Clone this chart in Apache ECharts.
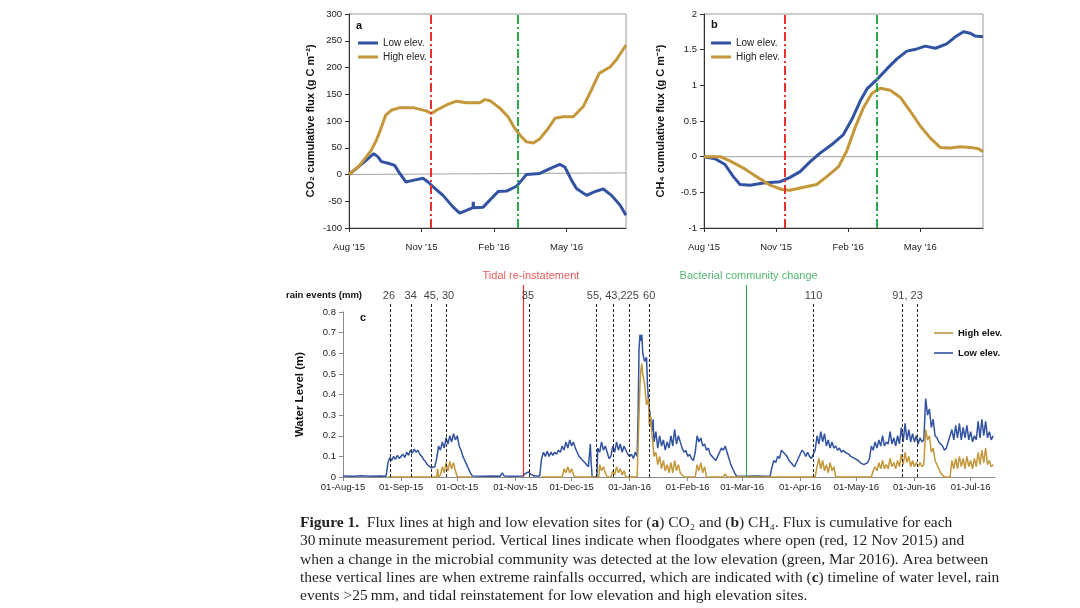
<!DOCTYPE html>
<html><head><meta charset="utf-8">
<script src="https://cdn.jsdelivr.net/npm/echarts@6/dist/echarts.min.js"></script>
<style>html,body{margin:0;padding:0;background:#fff}#c{width:1080px;height:608px}</style>
</head><body><div id="c"></div>
<script>
// ---------- Panel a : CO2 cumulative flux (x = months since 1 Aug 2015) ----------
const aLow = [[0,0],[0.3,11],[0.72,27],[1.02,39],[1.2,33],[1.34,24],[1.62,21],[1.89,17],[2.1,2],[2.35,-14],[2.65,-11],[3.06,-7],[3.27,-14],[3.48,-23],[3.89,-39],[4.31,-61],[4.58,-72],[4.86,-67],[5.13,-62],[5.14,-51],[5.16,-62],[5.55,-61],[5.89,-45],[6.17,-32],[6.52,-31],[6.93,-22],[7.14,-11],[7.34,0],[7.9,2],[8.31,11],[8.72,19],[8.93,14],[9.21,-11],[9.41,-26],[9.83,-39],[10.17,-32],[10.52,-27],[10.86,-39],[11.21,-57],[11.46,-76]];
const aHigh = [[0,0],[0.44,17],[0.92,45],[1.13,64],[1.27,80],[1.52,111],[1.75,120],[2.1,125],[2.65,125],[3.2,119],[3.41,114],[3.62,120],[4.03,130],[4.45,137],[4.86,134],[5.41,134],[5.62,140],[5.83,138],[6.24,124],[6.58,108],[6.86,86],[7.07,74],[7.34,61],[7.62,59],[7.9,67],[8.24,86],[8.52,105],[8.86,108],[9.28,108],[9.69,127],[10.03,158],[10.35,189],[10.8,201],[11.07,215],[11.46,242]];
const aRef = [[0,0],[11.46,3]];
const aEvents = [3.38, 6.98];
const aMax = 11.46;

// ---------- Panel b : CH4 cumulative flux ----------
const bLow = [[0,0],[0.46,-0.03],[0.875,-0.11],[1.22,-0.28],[1.5,-0.39],[1.92,-0.4],[2.47,-0.37],[3.17,-0.35],[3.58,-0.29],[4.0,-0.21],[4.42,-0.07],[4.83,0.05],[5.32,0.17],[5.8,0.31],[6.15,0.52],[6.5,0.78],[6.78,0.95],[7.19,1.08],[7.61,1.23],[8.03,1.37],[8.44,1.48],[8.86,1.51],[9.21,1.55],[9.63,1.52],[10.1,1.58],[10.46,1.68],[10.8,1.75],[11.08,1.73],[11.29,1.69],[11.61,1.68]];
const bHigh = [[0,0],[0.67,0.0],[1.08,-0.06],[1.64,-0.16],[2.19,-0.28],[2.75,-0.4],[3.24,-0.46],[3.58,-0.47],[4.14,-0.43],[4.69,-0.39],[5.11,-0.28],[5.6,-0.14],[5.94,0.08],[6.29,0.41],[6.64,0.69],[6.99,0.89],[7.33,0.96],[7.75,0.93],[8.17,0.83],[8.58,0.64],[9.0,0.43],[9.42,0.26],[9.83,0.13],[10.25,0.12],[10.67,0.14],[11.08,0.13],[11.43,0.11],[11.61,0.07]];
const bRef = [[0,0],[11.61,0]];
const bEvents = [3.35, 7.2];
const bMax = 11.61;

const abTicks = [0, 3, 6, 9];
const abTickLabels = ["Aug '15", "Nov '15", "Feb '16", "May '16"];

// ---------- Panel c : water level (x = days since 1 Aug 2015) ----------
const cLowLevel = [[0,0.005],[5,0.004],[10,0.006],[15,0.004],[20,0.005],[23,0.004],[24,0.07],[25,0.095],[26,0.08],[27,0.1],[28,0.085],[29,0.105],[30,0.09],[31,0.1],[32,0.11],[33,0.095],[34,0.12],[35,0.105],[36,0.13],[37,0.115],[38,0.135],[39,0.12],[40,0.13],[41,0.11],[42,0.1],[43,0.085],[44,0.075],[45,0.06],[46,0.055],[47,0.045],[48,0.04],[49,0.05],[50,0.09],[51,0.15],[52,0.13],[53,0.17],[54,0.14],[55,0.19],[56,0.16],[57,0.2],[58,0.17],[59,0.21],[60,0.18],[61,0.2],[62,0.15],[63,0.13],[64,0.1],[65,0.08],[66,0.06],[67,0.04],[68,0.02],[69,0.005],[75,0.004],[80,0.005],[84,0.004],[85,0.02],[86,0.005],[90,0.004],[96,0.005],[97,0.015],[98,0.01],[99,0.025],[100,0.015],[101,0.02],[102,0.005],[105,0.005],[106,0.09],[107,0.12],[108,0.1],[109,0.125],[110,0.1],[111,0.12],[112,0.105],[113,0.12],[114,0.11],[115,0.13],[116,0.12],[117,0.15],[118,0.13],[119,0.17],[120,0.14],[121,0.18],[122,0.15],[123,0.17],[124,0.14],[125,0.12],[126,0.1],[127,0.09],[128,0.08],[129,0.07],[130,0.06],[131,0.05],[132,0.16],[132.5,0.06],[133,0.0],[135.5,0.0],[136,0.14],[137,0.12],[138,0.17],[139,0.13],[140,0.15],[141,0.12],[142,0.09],[143,0.1],[144,0.15],[145,0.12],[146,0.17],[147,0.13],[148,0.16],[149,0.12],[150,0.15],[151,0.13],[152,0.11],[153,0.1],[154,0.11],[155,0.09],[156,0.12],[157,0.1],[157.5,0.3],[158,0.62],[158.5,0.69],[159,0.66],[159.5,0.69],[160,0.6],[161,0.56],[162,0.58],[162.5,0.45],[163,0.38],[163.5,0.33],[164,0.3],[165,0.22],[165.5,0.28],[166,0.17],[167,0.22],[168,0.14],[169,0.2],[170,0.15],[171,0.18],[172,0.13],[173,0.17],[174,0.14],[175,0.2],[176,0.15],[177,0.23],[178,0.16],[179,0.2],[180,0.17],[181,0.14],[182,0.12],[183,0.13],[184,0.1],[185,0.11],[186,0.09],[187,0.08],[188,0.12],[189,0.2],[190,0.17],[191,0.19],[192,0.15],[193,0.16],[194,0.13],[195,0.14],[196,0.11],[197,0.1],[198,0.09],[199,0.08],[200,0.1],[201,0.12],[202,0.14],[203,0.13],[204,0.15],[205,0.12],[206,0.09],[207,0.06],[208,0.04],[209,0.02],[210,0.005],[215,0.004],[220,0.005],[225,0.004],[228,0.005],[229,0.05],[230,0.08],[231,0.07],[232,0.1],[233,0.09],[234,0.13],[235,0.12],[236,0.11],[237,0.1],[238,0.08],[239,0.07],[240,0.06],[241,0.05],[242,0.07],[243,0.09],[244,0.11],[245,0.13],[246,0.12],[247,0.1],[248,0.12],[249,0.1],[250,0.09],[251,0.11],[252,0.13],[253,0.2],[254,0.16],[255,0.22],[256,0.17],[257,0.21],[258,0.15],[259,0.18],[260,0.14],[261,0.17],[262,0.14],[263,0.15],[264,0.13],[265,0.14],[266,0.12],[267,0.13],[268,0.12],[269,0.12],[270,0.11],[271,0.1],[272,0.1],[273,0.09],[274,0.09],[275,0.08],[276,0.07],[277,0.07],[278,0.06],[279,0.06],[280,0.07],[281,0.09],[282,0.15],[283,0.13],[284,0.17],[285,0.14],[286,0.18],[287,0.15],[288,0.2],[289,0.15],[290,0.17],[291,0.16],[292,0.22],[293,0.16],[294,0.19],[295,0.15],[296,0.2],[297,0.16],[298,0.24],[299,0.17],[300,0.26],[301,0.18],[302,0.23],[303,0.17],[304,0.21],[305,0.17],[306,0.2],[307,0.16],[308,0.19],[309,0.17],[310,0.18],[311,0.38],[312,0.3],[313,0.33],[314,0.24],[315,0.28],[316,0.2],[317,0.19],[318,0.17],[319,0.16],[320,0.15],[321,0.13],[322,0.14],[323,0.17],[324,0.2],[325,0.23],[326,0.18],[327,0.25],[328,0.19],[329,0.26],[330,0.18],[331,0.24],[332,0.19],[333,0.25],[334,0.18],[335,0.22],[336,0.17],[337,0.2],[338,0.18],[339,0.27],[340,0.19],[341,0.28],[342,0.2],[343,0.27],[344,0.19],[345,0.22],[346,0.18],[347,0.2]];
const cHighLevel = [[24,0],[50,0],[50.5,0.04],[51,0],[52,0.01],[53,0.05],[54,0.02],[55,0.07],[56,0.03],[57,0.075],[58,0.04],[59,0.07],[60,0.03],[61,0],[69,0],[69.5,null],[106,0],[117,0],[118,0.04],[119,0.02],[120,0.05],[121,0.02],[122,0.04],[123,0.01],[124,0],[136.5,0],[137,0.06],[138,0.03],[139,0.05],[140,0.02],[141,0],[143,0],[144,0.03],[145,0.01],[146,0.05],[147,0.02],[148,0.04],[149,0.01],[150,0.03],[151,0],[157,0],[157.5,0.15],[158,0.3],[158.5,0.45],[159,0.52],[159.5,0.55],[160,0.5],[161,0.45],[162,0.35],[163,0.38],[163.5,0.25],[164,0.3],[165,0.2],[165.5,0.15],[166,0.1],[167,0.12],[168,0.06],[169,0.1],[170,0.04],[171,0.08],[172,0.03],[173,0.06],[174,0.02],[175,0.07],[176,0.02],[177,0.08],[178,0.03],[179,0.06],[180,0.02],[181,0.01],[182,0],[188,0],[189,0.06],[190,0.03],[191,0.07],[192,0.02],[193,0.05],[194,0],[203,0],[204,0.015],[205,0],[252,0],[253,0.05],[254,0.09],[255,0.04],[256,0.08],[257,0.03],[258,0.06],[259,0.02],[260,0.07],[261,0.03],[262,0.05],[263,0],[282,0],[283,0.03],[284,0.05],[285,0.03],[286,0.07],[287,0.04],[288,0.08],[289,0.04],[290,0.06],[291,0.04],[292,0.09],[293,0.05],[294,0.07],[295,0.04],[296,0.08],[297,0.05],[298,0.11],[299,0.06],[300,0.12],[301,0.07],[302,0.1],[303,0.05],[304,0.08],[305,0.05],[306,0.07],[307,0.05],[308,0.07],[309,0.05],[310,0.06],[311,0.23],[312,0.18],[313,0.2],[314,0.12],[315,0.14],[316,0.08],[317,0.06],[318,0.04],[319,0.02],[320,0.01],[321,0],[324,0],[325,0.08],[326,0.04],[327,0.09],[328,0.04],[329,0.1],[330,0.05],[331,0.09],[332,0.04],[333,0.1],[334,0.05],[335,0.08],[336,0.04],[337,0.09],[338,0.05],[339,0.12],[340,0.06],[341,0.13],[342,0.07],[343,0.14],[344,0.06],[345,0.08],[346,0.05],[347,0.06]];
const cTickDays = [0, 31, 61, 92, 122, 153, 184, 213, 244, 274, 305, 335];
const cTickLabels = ['01-Aug-15','01-Sep-15','01-Oct-15','01-Nov-15','01-Dec-15','01-Jan-16','01-Feb-16','01-Mar-16','01-Apr-16','01-May-16','01-Jun-16','01-Jul-16'];
const cMax = 348;
const rainDays = [25, 36.3, 47, 55.3, 99.4, 135.3, 144.2, 152.7, 163.5, 250.8, 298.3, 306.5];
const rainLabelDays = [24.5, 36.1, 51.2, 98.7, 144, 163.4, 251.2, 301.3];
const rainLabels = ['26', '34', '45, 30', '35', '55, 43,225', '60', '110', '91, 23'];
const eventDays = [96.2, 215.3];
const eventLabelDays = [100.3, 216.5];
const eventLabels = ['Tidal re-instatement', 'Bacterial community change'];

// ---------- styling ----------
const FONT = 'Liberation Sans, Arial, sans-serif';
const SERIF = 'Liberation Serif, Times New Roman, serif';
const BLUE = '#3253a2';
const GOLD = '#c4973a';
const RED = '#e8312f';
const GREEN = '#2aa84a';
const DASHDOT = [9, 3, 2, 3];

function abAxisLabel(v) {
  const i = abTicks.findIndex(t => Math.abs(t - v) < 1e-6);
  return i >= 0 ? abTickLabels[i] : '';
}
function cAxisLabel(v) {
  const i = cTickDays.indexOf(v);
  return i >= 0 ? cTickLabels[i] : '';
}

const axisLbl = {fontSize: 9.5, color: '#222', fontFamily: FONT};

function abX(grid, max) {
  return {gridIndex: grid, type: 'value', min: 0, max: max, interval: 3,
    axisLine: {onZero: false, lineStyle: {color: '#333', width: 1}},
    axisTick: {show: true, length: 4, lineStyle: {color: '#333'}},
    axisLabel: Object.assign({formatter: abAxisLabel, margin: 14, showMaxLabel: false}, axisLbl),
    splitLine: {show: false}};
}
function abY(grid, min, max, interval, name, gap) {
  return {gridIndex: grid, type: 'value', min: min, max: max, interval: interval,
    axisLine: {show: true, onZero: false, lineStyle: {color: '#333', width: 1}},
    axisTick: {show: true, length: 4, lineStyle: {color: '#333'}},
    axisLabel: Object.assign({margin: 7}, axisLbl),
    splitLine: {show: false},
    name: name, nameLocation: 'middle', nameGap: gap,
    nameTextStyle: {fontWeight: 'bold', fontSize: 11, fontFamily: FONT, color: '#111'}};
}

function fluxSeries(name, data, color, xi) {
  return {type: 'line', name: name, xAxisIndex: xi, yAxisIndex: xi, data: data,
    showSymbol: false, symbol: 'none', lineStyle: {width: 3, color: color},
    itemStyle: {color: color}, z: 3, silent: true, animation: false};
}
function refSeries(data, events, xi) {
  return {type: 'line', xAxisIndex: xi, yAxisIndex: xi, data: data, showSymbol: false, symbol: 'none',
    lineStyle: {width: 0.8, color: '#8a8a8a'}, z: 2, silent: true, animation: false,
    markLine: {silent: true, symbol: 'none', animation: false, label: {show: false},
      lineStyle: {type: DASHDOT, width: 2},
      data: [{xAxis: events[0], lineStyle: {color: RED, type: DASHDOT, width: 2}},
             {xAxis: events[1], lineStyle: {color: GREEN, type: DASHDOT, width: 2}}]}};
}

function legendAB(left) {
  return {left: left, top: 37, orient: 'vertical', data: ['Low elev.', 'High elev.'],
    icon: 'rect', itemWidth: 20, itemHeight: 3, itemGap: 2, padding: 0, selectedMode: false,
    textStyle: {fontSize: 10, fontFamily: FONT, color: '#222', lineHeight: 12}};
}

const option = {
  backgroundColor: '#fff',
  animation: false,
  grid: [
    {left: 349, top: 14, width: 277, height: 214, show: true, borderColor: '#9a9a9a', borderWidth: 1, containLabel: false},
    {left: 704, top: 14, width: 279, height: 214, show: true, borderColor: '#9a9a9a', borderWidth: 1, containLabel: false},
    {left: 343, top: 312, width: 652, height: 165, containLabel: false},
    {left: 343, top: 285, width: 652, height: 192, containLabel: false}
  ],
  xAxis: [
    abX(0, aMax),
    abX(1, bMax),
    {gridIndex: 2, type: 'value', min: 0, max: cMax,
      axisLine: {onZero: false, lineStyle: {color: '#8a8a8a', width: 1}},
      axisTick: {show: true, length: 4, customValues: cTickDays, lineStyle: {color: '#8a8a8a'}},
      axisLabel: Object.assign({formatter: cAxisLabel, customValues: cTickDays, margin: 5}, axisLbl),
      splitLine: {show: false}},
    {gridIndex: 3, type: 'value', min: 0, max: cMax, show: false}
  ],
  yAxis: [
    abY(0, -100, 300, 50, 'CO\u2082 cumulative flux (g C m\u207B\u00B2)', 33),
    abY(1, -1, 2, 0.5, 'CH\u2084 cumulative flux (g C m\u207B\u00B2)', 38),
    {gridIndex: 2, type: 'value', min: 0, max: 0.8, interval: 0.1,
      axisLine: {show: true, lineStyle: {color: '#8a8a8a', width: 1}},
      axisTick: {show: true, length: 4, lineStyle: {color: '#8a8a8a'}},
      axisLabel: Object.assign({margin: 7}, axisLbl),
      splitLine: {show: false},
      name: 'Water Level (m)', nameLocation: 'middle', nameGap: 37,
      nameTextStyle: {fontWeight: 'bold', fontSize: 11.5, fontFamily: FONT, color: '#111'}},
    {gridIndex: 3, type: 'value', min: 0, max: 1, show: false}
  ],
  legend: [
    legendAB(358),
    legendAB(711),
    {left: 934, top: 327, orient: 'vertical', data: ['High elev.', 'Low elev.'],
      icon: 'rect', itemWidth: 19, itemHeight: 1.6, itemGap: 8, padding: 0, selectedMode: false,
      textStyle: {fontSize: 9.5, fontWeight: 'bold', fontFamily: FONT, color: '#111', lineHeight: 12}}
  ],
  series: [
    refSeries(aRef, aEvents, 0),
    fluxSeries('Low elev.', aLow, BLUE, 0),
    fluxSeries('High elev.', aHigh, GOLD, 0),
    refSeries(bRef, bEvents, 1),
    fluxSeries('Low elev.', bLow, BLUE, 1),
    fluxSeries('High elev.', bHigh, GOLD, 1),
    {type: 'line', name: 'Low elev.', xAxisIndex: 2, yAxisIndex: 2, data: cLowLevel,
      showSymbol: false, symbol: 'none', lineStyle: {width: 1.5, color: BLUE}, itemStyle: {color: BLUE},
      silent: true, z: 3},
    {type: 'line', name: 'High elev.', xAxisIndex: 2, yAxisIndex: 2, data: cHighLevel, connectNulls: false,
      showSymbol: false, symbol: 'none', lineStyle: {width: 1.5, color: GOLD}, itemStyle: {color: GOLD},
      silent: true, z: 4},
    {type: 'scatter', xAxisIndex: 3, yAxisIndex: 3, symbolSize: 0, silent: true, z: 6,
      data: rainLabelDays.map(d => [d, 0.943]),
      label: {show: true, position: 'inside', formatter: p => rainLabels[p.dataIndex],
        fontSize: 11, fontFamily: FONT, color: '#111'},
      markLine: {silent: true, symbol: 'none', animation: false,
        data: rainDays.map(d => [{coord: [d, 0], lineStyle: {color: '#222', type: [3, 2], width: 1}, label: {show: false}}, {coord: [d, 0.911]}])
          .concat([
            [{coord: [eventDays[0], 0], lineStyle: {color: RED, type: 'solid', width: 1.2}, label: {show: false}},
             {coord: [eventDays[0], 1]}],
            [{coord: [eventDays[1], 0], lineStyle: {color: GREEN, type: 'solid', width: 1}, label: {show: false}},
             {coord: [eventDays[1], 1]}]
          ])}},
    {type: 'scatter', xAxisIndex: 3, yAxisIndex: 3, symbolSize: 1, clip: false, silent: true, z: 6,
      itemStyle: {color: 'rgba(0,0,0,0)'},
      data: eventLabelDays.map((d, i) => ({value: [d, 1.045], label: {color: i === 0 ? RED : GREEN}})),
      label: {show: true, position: 'inside', formatter: p => eventLabels[p.dataIndex],
        fontSize: 11, fontFamily: FONT, color: RED}}
  ],
  graphic: [
    {type: 'text', left: 356, top: 20, silent: true, style: {text: 'a', font: 'bold 11px ' + FONT, fill: '#111'}},
    {type: 'text', left: 711, top: 19, silent: true, style: {text: 'b', font: 'bold 11px ' + FONT, fill: '#111'}},
    {type: 'text', left: 360, top: 312, silent: true, style: {text: 'c', font: 'bold 11px ' + FONT, fill: '#111'}},
    {type: 'text', left: 286, top: 290, silent: true, style: {text: 'rain events (mm)', font: 'bold 9.5px ' + FONT, fill: '#111'}}
  ]
};

// caption
const CAP = 15.5;
const capRich = {
  b: {fontFamily: SERIF, fontSize: CAP, fontWeight: 'bold', fill: '#231f20'},
  n: {fontFamily: SERIF, fontSize: CAP, fill: '#231f20'}
};
const captionLines = [
  '{b|Figure 1.}{n|  Flux lines at high and low elevation sites for (}{b|a}{n|) CO\u2082 and (}{b|b}{n|) CH\u2084. Flux is cumulative for each}',
  '{n|30\u2009minute measurement period. Vertical lines indicate when floodgates where open (red, 12 Nov 2015) and}',
  '{n|when a change in the microbial community was detected at the low elevation (green, Mar 2016). Area between}',
  '{n|these vertical lines are when extreme rainfalls occurred, which are indicated with (}{b|c}{n|) timeline of water level, rain}',
  '{n|events >25\u2009mm, and tidal reinstatement for low elevation and high elevation sites.}'
];
const capTops = [515, 533, 551.5, 570, 588];
captionLines.forEach((t, i) => {
  option.graphic.push({type: 'text', left: 300, top: capTops[i], silent: true,
    style: {text: t, rich: capRich, fontFamily: SERIF, fontSize: CAP, fill: '#231f20'}});
});

const chart = echarts.init(document.getElementById('c'), null, {renderer: 'canvas'});
chart.setOption(option);
</script></body></html>
